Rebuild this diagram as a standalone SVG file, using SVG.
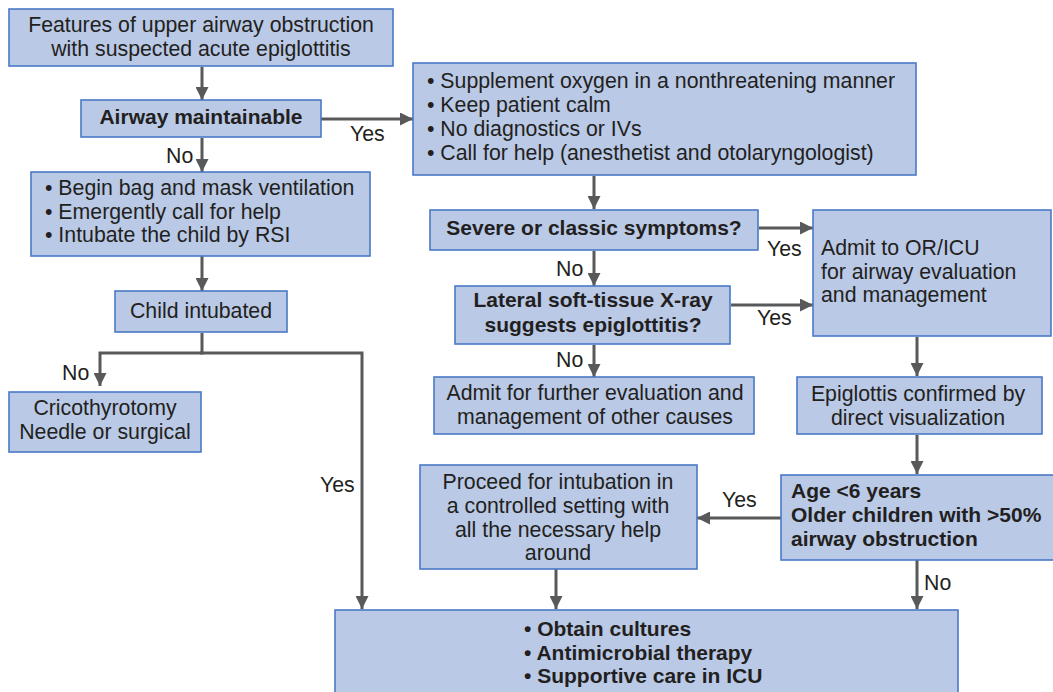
<svg xmlns="http://www.w3.org/2000/svg" width="1053" height="692" viewBox="0 0 1053 692">
<style>
.box{fill:#b9c9e6;stroke:#4a79c6;stroke-width:1.6}
text{font-family:"Liberation Sans",Arial,sans-serif;font-size:21.3px;fill:#231f20}
.b{font-weight:bold;font-size:21px}
.c{text-anchor:middle}
.con{fill:none;stroke:#58595b;stroke-width:3}
</style>
<defs>
<marker id="ah" viewBox="0 0 12 12" refX="12" refY="6" markerWidth="13" markerHeight="13" markerUnits="userSpaceOnUse" orient="auto">
<path d="M0,0 L12,6 L0,12 z" fill="#58595b"/>
</marker>
</defs>
<rect width="1053" height="692" fill="#ffffff"/>

<g id="connectors">
<line class="con" x1="202" y1="67" x2="202" y2="100" marker-end="url(#ah)"/>
<line class="con" x1="321" y1="119" x2="413" y2="119" marker-end="url(#ah)"/>
<line class="con" x1="202" y1="138" x2="202" y2="172" marker-end="url(#ah)"/>
<line class="con" x1="594" y1="176" x2="594" y2="209" marker-end="url(#ah)"/>
<line class="con" x1="202" y1="256" x2="202" y2="291" marker-end="url(#ah)"/>
<path class="con" d="M202,333 V353 H100 V386" marker-end="url(#ah)"/>
<path class="con" d="M200,353 H362 V609" marker-end="url(#ah)"/>
<line class="con" x1="759" y1="228" x2="813" y2="228" marker-end="url(#ah)"/>
<line class="con" x1="594" y1="251" x2="594" y2="286" marker-end="url(#ah)"/>
<line class="con" x1="731" y1="305" x2="813" y2="305" marker-end="url(#ah)"/>
<line class="con" x1="594" y1="345" x2="594" y2="377" marker-end="url(#ah)"/>
<line class="con" x1="917" y1="337" x2="917" y2="376" marker-end="url(#ah)"/>
<line class="con" x1="917" y1="435" x2="917" y2="474" marker-end="url(#ah)"/>
<line class="con" x1="781" y1="518" x2="697" y2="518" marker-end="url(#ah)"/>
<line class="con" x1="917" y1="560" x2="917" y2="609" marker-end="url(#ah)"/>
<line class="con" x1="556" y1="569" x2="556" y2="609" marker-end="url(#ah)"/>
</g>

<g id="labels">
<text x="350" y="141">Yes</text>
<text x="166" y="163">No</text>
<text x="62" y="380">No</text>
<text x="320" y="492">Yes</text>
<text x="767" y="256">Yes</text>
<text x="556" y="276">No</text>
<text x="757" y="325">Yes</text>
<text x="556" y="367">No</text>
<text x="722" y="507">Yes</text>
<text x="924" y="590">No</text>
</g>

<g id="n1">
<rect class="box" x="9" y="9" width="384" height="57"/>
<text class="c" x="201" y="32">Features of upper airway obstruction</text>
<text class="c" x="201" y="56">with suspected acute epiglottitis</text>
</g>

<g id="n2">
<rect class="box" x="81" y="100" width="240" height="37"/>
<text class="c b" x="201" y="124">Airway maintainable</text>
</g>

<g id="n3">
<rect class="box" x="413" y="63" width="503" height="112"/>
<text x="427" y="88">• Supplement oxygen in a nonthreatening manner</text>
<text x="427" y="112">• Keep patient calm</text>
<text x="427" y="136">• No diagnostics or IVs</text>
<text x="427" y="160">• Call for help (anesthetist and otolaryngologist)</text>
</g>

<g id="n4">
<rect class="box" x="31" y="172" width="339" height="84"/>
<text x="45" y="195">• Begin bag and mask ventilation</text>
<text x="45" y="219">• Emergently call for help</text>
<text x="45" y="242">• Intubate the child by RSI</text>
</g>

<g id="n5">
<rect class="box" x="115" y="291" width="172" height="41"/>
<text class="c" x="201" y="318">Child intubated</text>
</g>

<g id="n6">
<rect class="box" x="9" y="392" width="192" height="60"/>
<text class="c" x="105" y="415">Cricothyrotomy</text>
<text class="c" x="105" y="439">Needle or surgical</text>
</g>

<g id="n7">
<rect class="box" x="430" y="210" width="328" height="40"/>
<text class="c b" x="594" y="235">Severe or classic symptoms?</text>
</g>

<g id="n8">
<rect class="box" x="455" y="286" width="275" height="58"/>
<text class="c b" x="593" y="307">Lateral soft-tissue X-ray</text>
<text class="c b" x="593" y="332">suggests epiglottitis?</text>
</g>

<g id="n9">
<rect class="box" x="434" y="377" width="320" height="57"/>
<text class="c" x="595" y="400">Admit for further evaluation and</text>
<text class="c" x="595" y="424">management of other causes</text>
</g>

<g id="n10">
<rect class="box" x="813" y="210" width="238" height="126"/>
<text x="821" y="255">Admit to OR/ICU</text>
<text x="821" y="279">for airway evaluation</text>
<text x="821" y="302">and management</text>
</g>

<g id="n11">
<rect class="box" x="797" y="377" width="245" height="57"/>
<text class="c" x="918" y="401">Epiglottis confirmed by</text>
<text class="c" x="918" y="425">direct visualization</text>
</g>

<g id="n12">
<rect class="box" x="781" y="475" width="280" height="85"/>
<text class="b" x="791" y="498">Age &lt;6 years</text>
<text class="b" x="791" y="522">Older children with &gt;50%</text>
<text class="b" x="791" y="546">airway obstruction</text>
</g>

<g id="n13">
<rect class="box" x="420" y="465" width="277" height="104"/>
<text class="c" x="558" y="489">Proceed for intubation in</text>
<text class="c" x="558" y="513">a controlled setting with</text>
<text class="c" x="558" y="537">all the necessary help</text>
<text class="c" x="558" y="560">around</text>
</g>

<g id="n14">
<rect class="box" x="335" y="610" width="623" height="95"/>
<text class="b" x="524" y="636">• Obtain cultures</text>
<text class="b" x="524" y="660">• Antimicrobial therapy</text>
<text class="b" x="524" y="683">• Supportive care in ICU</text>
</g>
</svg>
